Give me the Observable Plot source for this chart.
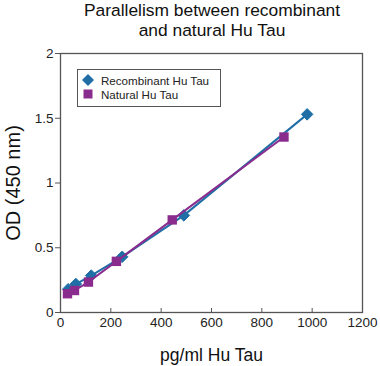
<!DOCTYPE html>
<html>
<head>
<meta charset="utf-8">
<script src="https://cdn.jsdelivr.net/npm/d3@7"></script>
<script src="https://cdn.jsdelivr.net/npm/@observablehq/plot@0.6"></script>
<style>
  body { margin: 0; background: #fff; font-family: "Liberation Sans", Arial, Helvetica, sans-serif; }
  #wrap { position: relative; width: 380px; height: 366px; overflow: hidden; }
  #title { position: absolute; left: 32px; width: 360px; top: 1px; text-align: center; font-size: 17.4px; line-height: 19.5px; color: #111; }
  #chart { position: absolute; left: 0; top: 45px; }
  #legend { position: absolute; left: 77px; top: 69px; width: 144px; height: 38px; border: 1.3px solid #555; background: #fff; font-size: 11.6px; color: #222; box-sizing: border-box; }
  .item { position: absolute; left: 4px; height: 14px; display: flex; align-items: center; white-space: nowrap; }
  .item svg { margin-right: 7px; flex: none; }
</style>
</head>
<body>
<div id="wrap">
  <div id="title">Parallelism between recombinant<br>and natural Hu Tau</div>
  <div id="chart"></div>
  <div id="legend"></div>
</div>
<script>
// Data
const seriesNames = ["Recombinant Hu Tau", "Natural Hu Tau"];
const seriesColors = ["#1f6fa6", "#8a2c8e"];
const recombinantX = [30.6, 61, 122, 245, 490, 980];
const recombinantY = [0.18, 0.22, 0.285, 0.43, 0.75, 1.53];
const naturalX = [27.75, 55.5, 111, 222, 444, 888];
const naturalY = [0.145, 0.17, 0.235, 0.395, 0.715, 1.355];
const xTicks = [0, 200, 400, 600, 800, 1000, 1200];
const yTicks = [0, 0.5, 1, 1.5, 2];
const xLabel = "pg/ml Hu Tau";
const yLabel = "OD (450 nm)";

const rec = recombinantX.map((x, i) => ({x, y: recombinantY[i]}));
const nat = naturalX.map((x, i) => ({x, y: naturalY[i]}));

const chart = Plot.plot({
  width: 380,
  height: 321,
  marginLeft: 60,
  marginRight: 18,
  marginTop: 8,
  marginBottom: 54,
  style: {fontFamily: '"Liberation Sans", Arial, Helvetica, sans-serif', fontSize: "13.5px", color: "#222", background: "white"},
  x: {domain: [0, 1200], ticks: xTicks},
  y: {domain: [0, 2], ticks: yTicks},
  marks: [
    Plot.frame({stroke: "#555", strokeWidth: 1.3}),
    Plot.axisX({ticks: xTicks, tickSize: -4, tickPadding: 9, label: null, fontSize: 13.5, stroke: "#555", tickFormat: d => String(d)}),
    Plot.axisY({ticks: yTicks, tickSize: 5, tickPadding: 2, label: null, fontSize: 13.5, tickFormat: d => String(d), stroke: "#555"}),
    Plot.line(rec, {x: "x", y: "y", stroke: seriesColors[0], strokeWidth: 2}),
    Plot.dot(rec, {x: "x", y: "y", symbol: "diamond2", r: 5.2, fill: seriesColors[0], stroke: seriesColors[0], strokeWidth: 1}),
    Plot.line(nat, {x: "x", y: "y", stroke: seriesColors[1], strokeWidth: 2}),
    Plot.dot(nat, {x: "x", y: "y", symbol: "square", r: 5.3, fill: seriesColors[1]}),
    Plot.text([xLabel], {frameAnchor: "bottom", dy: 43, fontSize: 17.5, fill: "#111", lineAnchor: "middle", textAnchor: "middle"}),
    Plot.text([yLabel], {frameAnchor: "left", dx: -47, rotate: -90, fontSize: 20, fill: "#111", lineAnchor: "middle", textAnchor: "middle"})
  ]
});
document.getElementById("chart").appendChild(chart);

// Legend
const legend = document.getElementById("legend");
const symbols = [
  '<svg width="12" height="12"><path d="M6,0L12,6L6,12L0,6Z" fill="' + seriesColors[0] + '"/></svg>',
  '<svg width="12" height="12"><rect x="1.5" y="1.5" width="9" height="9" fill="' + seriesColors[1] + '"/></svg>'
];
seriesNames.forEach((name, i) => {
  const d = document.createElement("div");
  d.className = "item";
  d.style.top = (i === 0 ? 3.4 : 17) + "px";
  d.innerHTML = symbols[i] + "<span>" + name + "</span>";
  legend.appendChild(d);
});
</script>
</body>
</html>
